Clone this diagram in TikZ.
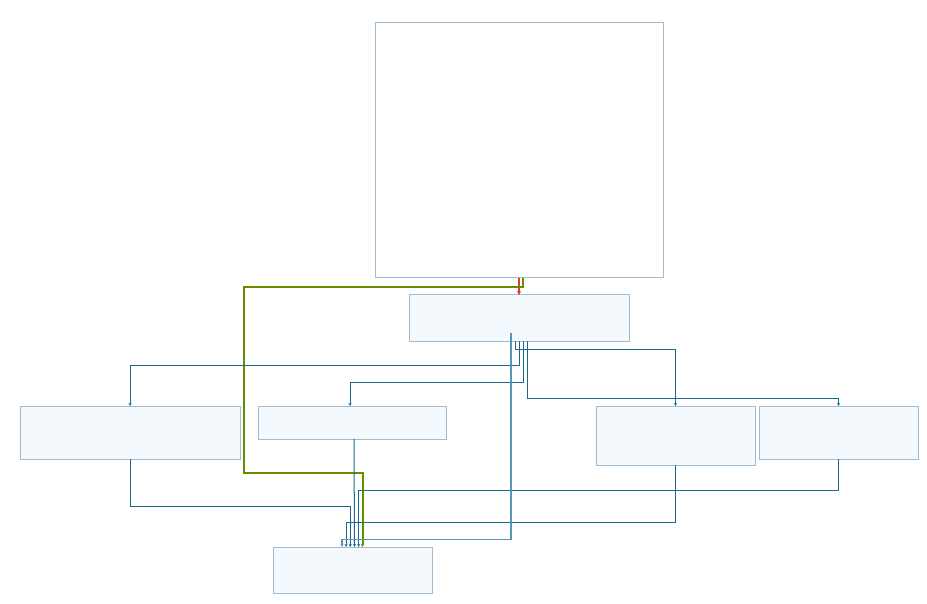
\documentclass[tikz,border=0pt]{standalone}
\usetikzlibrary{arrows.meta}
\definecolor{boxline}{RGB}{160,188,210}
\definecolor{boxfill}{RGB}{244,249,253}
\definecolor{flow}{RGB}{26,104,140}
\definecolor{flowlight}{RGB}{90,150,180}
\definecolor{okgreen}{RGB}{104,140,0}
\definecolor{errred}{RGB}{222,58,58}
\tikzset{
  box/.style={draw=boxline, fill=boxfill, line width=1pt, inner sep=0pt, outer sep=0pt, anchor=north west},
  flowline/.style={draw=flow, line width=1pt, -{Stealth[length=3pt,width=3pt]}},
  flowpale/.style={flowline, draw=flowlight, line width=1.5pt},
}
\begin{document}
\begin{tikzpicture}[x=1pt,y=-1pt]
	\useasboundingbox (0,0) rectangle (927,604);

	\node[box, fill=white, minimum width=288, minimum height=255] (src) at (375,23) {};
	\foreach \name/\x/\y/\w/\h in {hub/409/295/220/46, outA/20/406/220/53, outB/258/406/188/33,
		outC/596/406/159/59, outD/759/406/159/53, sink/273/547/159/46}
	{
		\node[box, minimum width=\w, minimum height=\h] (\name) at (\x,\y) {};
	}

	% feeds into the hub and the sink
	\draw[errred, line width=1.8pt, -{Stealth[length=4pt,width=4pt]}] (src.south) -- (hub.north);
	\coordinate (gup) at (244,287);
	\coordinate (gdown) at (244,473);
	\draw[okgreen, line width=2pt, -{Stealth[length=3pt,width=3pt]}]
		([xshift=4pt]src.south) |- (gup) -- (gdown) -| ([xshift=10pt]sink.north);

	% hub fans out
	\draw[flowline] ([xshift=-4pt]hub.south) -- ++(0,8) -| (outC.north);
	\draw[flowline] (hub.south) -- ++(0,24.7) -| (outA.north);
	\draw[flowline] ([xshift=4pt]hub.south) -- ++(0,41) -| ([xshift=-2pt]outB.north);
	\draw[flowline] ([xshift=8pt]hub.south) -- ++(0,57.3) -| (outD.north);

	% everything ends in the sink
	\draw[flowline] ([xshift=2pt]outB.south) -- ([xshift=2pt]sink.north);
	\draw[flowline] (outA.south) -- ++(0,47.7) -| ([xshift=-2.2pt]sink.north);
	\draw[flowline] (outD.south) -- ++(0,31) -| ([xshift=6.2pt]sink.north);
	\draw[flowline] (outC.south) -- ++(0,57.7) -| ([xshift=-6.5pt]sink.north);
	\draw[flowpale] ([xshift=-8pt,yshift=8pt]hub.south) -- ++(0,206.3) -| ([xshift=-10.5pt]sink.north);
\end{tikzpicture}
\end{document}
